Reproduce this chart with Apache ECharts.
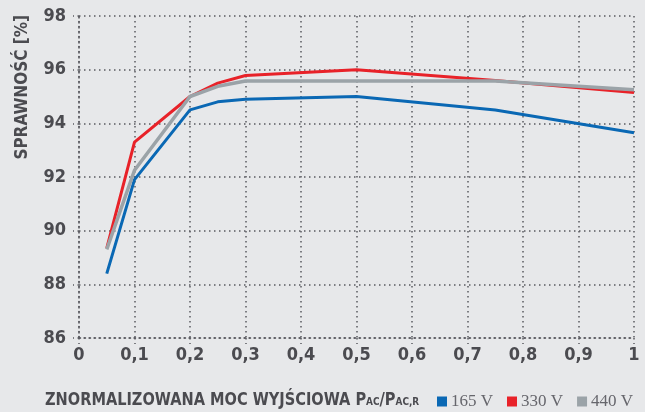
<!DOCTYPE html>
<html>
<head>
<meta charset="utf-8">
<style>
  html, body { margin: 0; padding: 0; background: #e7e8ea; }
  #chart { width: 645px; height: 412px; }
</style>
<script src="https://cdn.jsdelivr.net/npm/echarts@6/dist/echarts.min.js"></script>
</head>
<body>
<div id="chart"></div>
<script>
// load levels (P_AC / P_AC,R)
const loads = [0.05, 0.1, 0.2, 0.25, 0.3, 0.5, 0.75, 1.0]
// efficiency in % per input voltage
const eff165 = [88.4, 91.9, 94.5, 94.8, 94.9, 95.0, 94.5, 93.65]
const eff330 = [89.35, 93.3, 95.0, 95.5, 95.78, 96.0, 95.6, 95.15]
const eff440 = [89.3, 92.25, 95.0, 95.38, 95.58, 95.58, 95.58, 95.25]
const seriesNames = ['165 V', '330 V', '440 V']

const font = '"DejaVu Sans Condensed", sans-serif'
const textColor = '#4b4b50'
const dots = { color: '#5a5a60', width: 1.5, type: [1.5, 3.5] }

const pairs = (ys) => loads.map((x, i) => [x, ys[i]])

const chart = echarts.init(document.getElementById('chart'))

function line (name, data, color, width) {
  return {
    name: name,
    type: 'line',
    data: pairs(data),
    symbol: 'none',
    lineStyle: { color: color, width: width },
    itemStyle: { color: color }
  }
}

chart.setOption({
  backgroundColor: '#e7e8ea',
  animation: false,
  grid: { left: 79, right: 11, top: 16, bottom: 74 },
  xAxis: {
    type: 'value',
    min: 0,
    max: 1,
    interval: 0.1,
    axisLine: { show: true, lineStyle: dots },
    axisTick: { show: true, length: 6, lineStyle: dots },
    splitLine: { show: true, lineStyle: dots },
    axisLabel: {
      margin: 8,
      color: textColor,
      fontFamily: font,
      fontWeight: 'bold',
      fontSize: 18,
      formatter: v => String(Number(v.toFixed(1))).replace('.', ',')
    }
  },
  yAxis: {
    type: 'value',
    min: 86,
    max: 98,
    interval: 2,
    axisLine: { show: true, lineStyle: dots },
    axisTick: { show: true, length: 6, lineStyle: dots },
    splitLine: { show: true, lineStyle: dots },
    axisLabel: {
      margin: 13,
      color: textColor,
      fontFamily: font,
      fontWeight: 'bold',
      fontSize: 18
    }
  },
  legend: {
    data: seriesNames,
    left: 437,
    top: 393,
    icon: 'rect',
    itemWidth: 10,
    itemHeight: 10,
    itemGap: 14,
    padding: 0,
    textStyle: {
      color: '#66666c',
      fontFamily: '"Liberation Serif", serif',
      fontSize: 17,
      padding: [0, 0, 0, -1]
    }
  },
  graphic: [
    {
      type: 'text',
      left: 14,
      top: 15,
      rotation: Math.PI / 2,
      style: {
        text: 'SPRAWNOŚĆ [%]',
        fill: textColor,
        font: 'bold 17px ' + font
      }
    },
    {
      type: 'text',
      left: 45,
      top: 391,
      scaleX: 0.9,
      style: {
        text: '{t|ZNORMALIZOWANA MOC WYJŚCIOWA P}{s|AC}{t|/P}{s|AC,R}',
        rich: {
          t: { fill: textColor, fontFamily: font, fontWeight: 'bold', fontSize: 18, verticalAlign: 'bottom' },
          s: { fill: textColor, fontFamily: font, fontWeight: 'bold', fontSize: 11, verticalAlign: 'bottom', padding: [0, 0, 1, 0] }
        }
      }
    }
  ],
  series: [
    line(seriesNames[0], eff165, '#0a68b4', 3),
    line(seriesNames[1], eff330, '#e82229', 3),
    line(seriesNames[2], eff440, '#9ba3a8', 3.5)
  ]
})
</script>
</body>
</html>
